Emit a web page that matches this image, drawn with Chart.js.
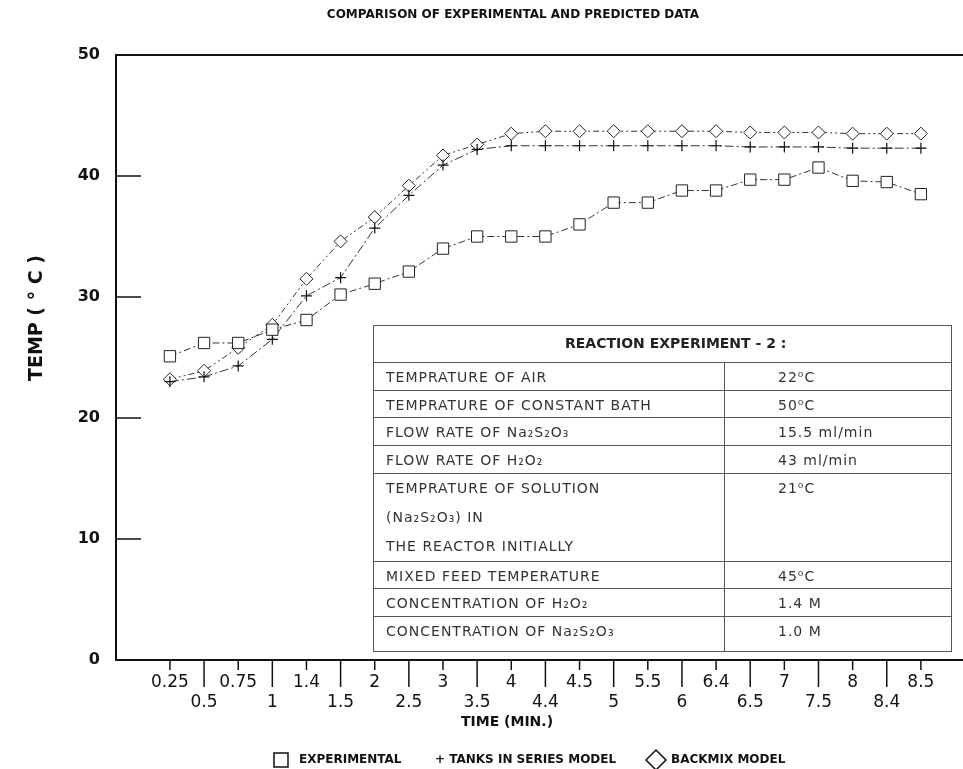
<!DOCTYPE html>
<html>
<head>
<meta charset="utf-8">
<script src="https://cdn.jsdelivr.net/npm/chart.js@4.4.1/dist/chart.umd.min.js"></script>
<style>
  html, body { margin: 0; padding: 0; background: #fff; }
  #wrap { width: 963px; height: 769px; }
</style>
</head>
<body>
<div id="wrap"><canvas id="tempChart" width="963" height="769"></canvas></div>
<script>
// time (min) categories, evenly spaced on the chart
const times = ['0.25', '0.5', '0.75', '1', '1.4', '1.5', '2', '2.5', '3', '3.5', '4', '4.4',
               '4.5', '5', '5.5', '6', '6.4', '6.5', '7', '7.5', '8', '8.4', '8.5'];

const experimental = [25.1, 26.2, 26.2, 27.3, 28.1, 30.2, 31.1, 32.1, 34.0, 35.0, 35.0, 35.0,
                      36.0, 37.8, 37.8, 38.8, 38.8, 39.7, 39.7, 40.7, 39.6, 39.5, 38.5];
const tanksInSeries = [23.0, 23.4, 24.3, 26.5, 30.1, 31.6, 35.7, 38.4, 40.9, 42.2, 42.5, 42.5,
                       42.5, 42.5, 42.5, 42.5, 42.5, 42.4, 42.4, 42.4, 42.3, 42.3, 42.3];
const backmix = [23.2, 23.9, 25.8, 27.7, 31.5, 34.6, 36.6, 39.2, 41.7, 42.6, 43.5, 43.7,
                 43.7, 43.7, 43.7, 43.7, 43.7, 43.6, 43.6, 43.6, 43.5, 43.5, 43.5];

const yTicks = [0, 10, 20, 30, 40, 50];

const tableTitle = 'REACTION EXPERIMENT - 2 :';
const tableRows = [
  [['TEMPRATURE OF AIR'], '22⁰C'],
  [['TEMPRATURE OF CONSTANT BATH'], '50⁰C'],
  [['FLOW RATE OF Na₂S₂O₃'], '15.5 ml/min'],
  [['FLOW RATE OF H₂O₂'], '43 ml/min'],
  [['TEMPRATURE OF SOLUTION', '(Na₂S₂O₃) IN', 'THE REACTOR INITIALLY'], '21⁰C'],
  [['MIXED FEED TEMPERATURE'], '45⁰C'],
  [['CONCENTRATION OF H₂O₂'], '1.4 M'],
  [['CONCENTRATION OF Na₂S₂O₃'], '1.0 M']
];

function series(values) {
  return values.map((v, i) => ({ x: i, y: v }));
}

const decorations = {
  id: 'decorations',
  afterDraw(chart) {
    const ctx = chart.ctx;
    const ca = chart.chartArea;
    const xs = chart.scales.x;
    const ys = chart.scales.y;
    const w = chart.width;
    ctx.save();
    ctx.strokeStyle = '#111';
    ctx.fillStyle = '#111';

    // top frame line, and the x axis carried on to the page edge
    ctx.lineWidth = 2;
    ctx.beginPath();
    ctx.moveTo(ca.left, ca.top);
    ctx.lineTo(w, ca.top);
    ctx.moveTo(ca.right - 1, ca.bottom);
    ctx.lineTo(w, ca.bottom);
    ctx.stroke();

    // y ticks and labels
    ctx.font = 'bold 16px "DejaVu Sans"';
    ctx.textAlign = 'right';
    ctx.textBaseline = 'middle';
    yTicks.forEach(v => {
      const py = ys.getPixelForValue(v);
      if (v > 0 && v < 50) {
        ctx.lineWidth = 1.5;
        ctx.beginPath();
        ctx.moveTo(ca.left, py);
        ctx.lineTo(ca.left + 25, py);
        ctx.stroke();
      }
      ctx.fillText(String(v), ca.left - 16, py);
    });

    // x ticks, labels alternate between two rows
    ctx.font = '17px "DejaVu Sans"';
    ctx.textAlign = 'center';
    times.forEach((t, i) => {
      const px = xs.getPixelForValue(i);
      const upper = i % 2 === 0;
      ctx.lineWidth = 1.5;
      ctx.beginPath();
      ctx.moveTo(px, ca.bottom);
      ctx.lineTo(px, ca.bottom + (upper ? 10 : 27));
      ctx.stroke();
      ctx.fillText(t, px, ca.bottom + (upper ? 23 : 43));
    });

    // axis titles
    ctx.font = 'bold 14px "DejaVu Sans"';
    ctx.fillText('TIME (MIN.)', 507, 722);
    ctx.save();
    ctx.translate(37, 318);
    ctx.rotate(-Math.PI / 2);
    ctx.font = 'bold 19px "DejaVu Sans"';
    ctx.fillText('TEMP ( ° C )', 0, 0);
    ctx.restore();

    // chart title
    ctx.font = 'bold 12px "DejaVu Sans"';
    ctx.fillText('COMPARISON OF EXPERIMENTAL AND PREDICTED DATA', 513, 15);

    // legend
    ctx.font = 'bold 12px "DejaVu Sans"';
    ctx.textAlign = 'left';
    ctx.lineWidth = 1.5;
    ctx.strokeRect(274, 753, 14, 14);
    ctx.fillText('EXPERIMENTAL', 299, 760);
    ctx.fillText('+ TANKS IN SERIES MODEL', 435, 760);
    ctx.beginPath();
    ctx.moveTo(656, 750);
    ctx.lineTo(666, 760);
    ctx.lineTo(656, 770);
    ctx.lineTo(646, 760);
    ctx.closePath();
    ctx.stroke();
    ctx.fillText('BACKMIX MODEL', 671, 760);

    // parameter table
    const tl = 373, tr = 951, tt = 325, tb = 651, tmid = 724;
    const rowEdges = [362, 390, 417, 445, 473, 561, 588, 616, tb];
    ctx.fillStyle = '#fff';
    ctx.fillRect(tl, tt, tr - tl, tb - tt);
    ctx.strokeStyle = '#555';
    ctx.lineWidth = 1;
    ctx.strokeRect(tl + 0.5, tt + 0.5, tr - tl, tb - tt);
    ctx.beginPath();
    rowEdges.slice(0, -1).forEach(y => {
      ctx.moveTo(tl, y + 0.5);
      ctx.lineTo(tr, y + 0.5);
    });
    ctx.moveTo(tmid + 0.5, rowEdges[0]);
    ctx.lineTo(tmid + 0.5, tb);
    ctx.stroke();

    ctx.fillStyle = '#222';
    ctx.font = 'bold 14px "DejaVu Sans"';
    ctx.textAlign = 'left';
    ctx.fillText(tableTitle, 565, 344);

    ctx.fillStyle = '#333';
    ctx.font = '14px "DejaVu Sans"';
    ctx.letterSpacing = '1px';
    tableRows.forEach((row, r) => {
      const top = rowEdges[r];
      const lines = row[0];
      const first = top + 16;
      lines.forEach((txt, k) => ctx.fillText(txt, 386, first + k * 29));
      ctx.fillText(row[1], 778, first);
    });
    ctx.restore();
  }
};

new Chart(document.getElementById('tempChart'), {
  type: 'line',
  data: {
    datasets: [{
      label: 'EXPERIMENTAL',
      data: series(experimental),
      borderColor: '#333',
      borderWidth: 1,
      borderDash: [7, 3, 2, 3],
      pointStyle: 'rect',
      pointRadius: 8,
      pointBorderWidth: 1,
      pointBorderColor: '#222',
      pointBackgroundColor: '#fff'
    }, {
      label: 'TANKS IN SERIES MODEL',
      data: series(tanksInSeries),
      borderColor: '#333',
      borderWidth: 1,
      borderDash: [9, 3, 2, 3],
      pointStyle: 'cross',
      pointRadius: 5.5,
      pointBorderWidth: 1.2,
      pointBorderColor: '#111',
      pointBackgroundColor: '#fff'
    }, {
      label: 'BACKMIX MODEL',
      data: series(backmix),
      borderColor: '#333',
      borderWidth: 1,
      borderDash: [6, 3, 2, 3, 2, 3],
      pointStyle: 'rectRot',
      pointRadius: 6.5,
      pointBorderWidth: 1,
      pointBorderColor: '#222',
      pointBackgroundColor: '#fff'
    }]
  },
  options: {
    responsive: false,
    animation: false,
    layout: { padding: { left: 116, right: 0, top: 55, bottom: 109 } },
    plugins: {
      legend: { display: false },
      tooltip: { enabled: false }
    },
    scales: {
      x: {
        type: 'linear',
        min: -1.58,
        max: 22.97,
        grid: { display: false, drawTicks: false },
        ticks: { display: false },
        border: { display: true, color: '#111', width: 2 }
      },
      y: {
        min: 0,
        max: 50,
        grid: { display: false, drawTicks: false },
        ticks: { display: false },
        border: { display: true, color: '#111', width: 2 }
      }
    }
  },
  plugins: [decorations]
});
</script>
</body>
</html>
